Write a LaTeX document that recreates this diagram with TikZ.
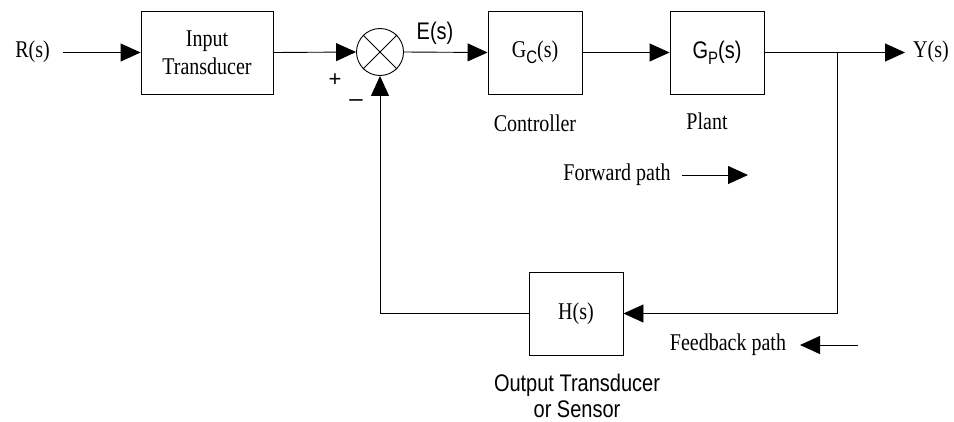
\documentclass[tikz,border=0pt]{standalone}
\usepackage{fontspec}
\usepackage{graphicx}
\setmainfont{Liberation Serif}
\setsansfont{Liberation Sans}
\usetikzlibrary{arrows.meta}
\newcommand\vs[1]{\scalebox{1}[1.2]{#1}}
\newcommand\mysub[1]{\raisebox{-5pt}{\fontsize{15}{15}\selectfont\sffamily #1}}
\begin{document}
\begin{tikzpicture}[x=1pt,y=-1pt,
  font=\fontsize{20}{24}\selectfont,
  blk/.style={draw, line width=0.9pt, minimum height=83pt, inner sep=0pt, align=center},
  arr/.style={line width=0.9pt, -{Triangle[length=20pt,width=18pt]}},
  ln/.style={line width=0.9pt},
  lbl/.style={inner sep=0pt, align=center}]
\useasboundingbox (0,0) rectangle (954,421);
% blocks
\node[blk, minimum width=132pt] (inbox) at (207,52.5) {\vs{Input}\\[4pt]\vs{Transducer}};
\node[draw, circle, line width=0.9pt, minimum size=47pt, inner sep=0pt] (sum) at (380,52) {};
\node[blk, minimum width=94pt] (gc) at (535,52.5) {\vs{G\mysub{C}(s)}};
\node[blk, minimum width=94pt] (gp) at (717,52.5) {\vs{\sffamily G\mysub{P}(s)}};
\node[blk, minimum width=94pt] (h) at (576,313.5) {\vs{H(s)}};
\draw[ln] (sum.north west) -- (sum.south east);
\draw[ln] (sum.north east) -- (sum.south west);
% labels
\node[lbl] (rl) at (32.5,52) {\vs{R(s)}};
\node[lbl] (yl) at (931,52) {\vs{Y(s)}};
\node[lbl, font=\sffamily\fontsize{20}{24}\selectfont] (el) at (435,33) {\vs{E(s)}};
\node[lbl, font=\sffamily\fontsize{22}{24}\selectfont] (plus) at (335,80) {+};
\node[lbl, font=\sffamily\fontsize{24}{24}\selectfont] (minus) at (356,103) {\textendash};
\node[lbl] (ctl) at (535,123) {\vs{Controller}};
\node[lbl] (plt) at (707,121) {\vs{Plant}};
\node[lbl] (fwd) at (617,175) {\vs{Forward path}};
\node[lbl] (fbk) at (728,345) {\vs{Feedback path}};
\node[lbl, font=\sffamily\fontsize{20}{26}\selectfont] (ot) at (577,396) {\vs{Output Transducer}\\\vs{or Sensor}};
% connectors
\coordinate (rin) at (63,52.5);
\coordinate (yout) at (905,52.5);
\coordinate (junc) at (837,52.5);
\coordinate (fa) at (682,175);
\coordinate (fb) at (748,175);
\coordinate (ba) at (858,345);
\coordinate (bb) at (800,345);
\draw[arr] (rin) -- (inbox.west);
\draw[arr] (inbox.east) -- (sum.west);
\draw[arr] (sum.east) -- (gc.west);
\draw[arr] (gc.east) -- (gp.west);
\draw[arr] (gp.east) -- (yout);
\draw[arr] (junc) |- (h.east);
\draw[arr] (h.west) -| (sum.south);
\draw[arr] (fa) -- (fb);
\draw[arr] (ba) -- (bb);
\end{tikzpicture}
\end{document}
